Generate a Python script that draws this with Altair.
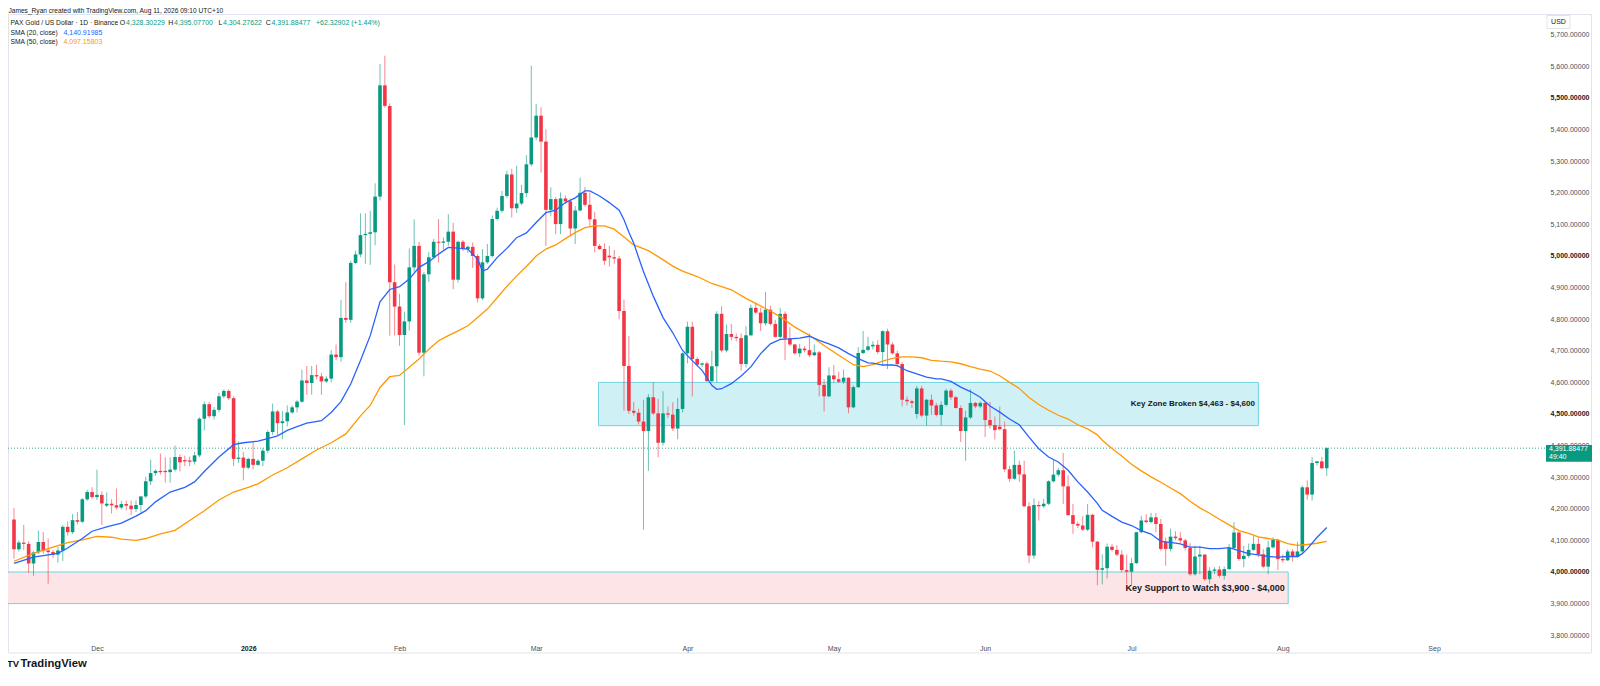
import altair as alt
import pandas as pd

FONT = "Liberation Sans, Arial, sans-serif"
FIRST_DAY = "2025-11-14"

opens = [
    4166, 4072, 4093, 4089, 4027, 4062, 4095, 4068, 4063, 4055,
    4068, 4143, 4126, 4164, 4159, 4230, 4253, 4237, 4244, 4210,
    4216, 4211, 4204, 4215, 4210, 4199, 4212, 4239, 4287, 4313,
    4320, 4320, 4316, 4324, 4364, 4354, 4353, 4349, 4369, 4485,
    4531, 4493, 4513, 4556, 4573, 4550, 4358, 4362, 4330, 4358,
    4339, 4352, 4384, 4443, 4508, 4471, 4477, 4505, 4521, 4539,
    4606, 4598, 4623, 4619, 4603, 4612, 4688, 4680, 4804, 4798,
    4978, 5005, 5066, 5070, 5075, 5188, 5540, 5475, 4917, 4840,
    4750, 4793, 4964, 5032, 4694, 4942, 4996, 5045, 5042, 5045,
    5077, 4925, 5045, 5022, 5029, 5000, 4866, 4980, 5000, 5117,
    5143, 5190, 5258, 5151, 5166, 5199, 5290, 5375, 5444, 5362,
    5146, 5180, 5101, 5182, 5173, 5087, 5144, 5200, 5162, 5116,
    5032, 5022, 5001, 4996, 4992, 4826, 4652, 4510, 4504, 4476,
    4446, 4553, 4502, 4409, 4502, 4498, 4454, 4516, 4692, 4776,
    4674, 4656, 4660, 4604, 4651, 4817, 4701, 4753, 4744, 4740,
    4658, 4749, 4836, 4821, 4787, 4830, 4785, 4744, 4817, 4739,
    4720, 4692, 4707, 4702, 4686, 4695, 4592, 4556, 4622, 4610,
    4602, 4615, 4521, 4585, 4693, 4703, 4714, 4719, 4696, 4762,
    4720, 4692, 4658, 4545, 4540, 4500, 4581, 4495, 4545, 4527,
    4497, 4529, 4574, 4553, 4519, 4446, 4489, 4535, 4524, 4535,
    4481, 4465, 4460, 4452, 4325, 4295, 4339, 4309, 4208, 4052,
    4212, 4208, 4216, 4287, 4308, 4322, 4271, 4180, 4152, 4147,
    4134, 4181, 4096, 4007, 4012, 4080, 4070, 4055, 4006, 4001,
    4028, 4126, 4163, 4158, 4173, 4152, 4095, 4073, 4112, 4107,
    4100, 4076, 3993, 4049, 4055, 3977, 4004, 4008, 3988, 4009,
    4076, 4125, 4041, 4051, 4070, 4089, 4056, 4017, 4078, 4102,
    4041, 4037, 4065, 4048, 4065, 4268, 4245, 4345, 4350, 4328.30229,
]

highs = [
    4203, 4100, 4149, 4098, 4066, 4131, 4126, 4106, 4070, 4080,
    4148, 4160, 4183, 4190, 4234, 4260, 4268, 4324, 4255, 4252,
    4230, 4264, 4225, 4226, 4226, 4226, 4240, 4302, 4355, 4325,
    4375, 4363, 4363, 4400, 4372, 4368, 4365, 4380, 4490, 4539,
    4539, 4522, 4567, 4578, 4578, 4556, 4414, 4380, 4362, 4411,
    4358, 4392, 4449, 4533, 4513, 4510, 4527, 4527, 4545, 4640,
    4652, 4652, 4656, 4630, 4620, 4702, 4720, 4861, 4917, 4985,
    5017, 5135, 5135, 5143, 5230, 5608, 5634, 5483, 4973, 4880,
    4824, 5024, 5116, 5045, 4950, 5012, 5054, 5117, 5059, 5132,
    5105, 5049, 5051, 5034, 5043, 5006, 5022, 5038, 5128, 5153,
    5206, 5270, 5276, 5286, 5225, 5319, 5602, 5481, 5471, 5401,
    5217, 5186, 5201, 5191, 5182, 5158, 5248, 5218, 5201, 5140,
    5038, 5040, 5032, 5019, 5000, 4862, 4747, 4538, 4517, 4545,
    4563, 4601, 4548, 4572, 4524, 4537, 4551, 4695, 4792, 4792,
    4680, 4663, 4666, 4700, 4825, 4841, 4783, 4785, 4755, 4755,
    4778, 4846, 4852, 4836, 4886, 4843, 4798, 4836, 4825, 4775,
    4722, 4722, 4715, 4755, 4720, 4700, 4610, 4648, 4655, 4634,
    4641, 4615, 4590, 4712, 4763, 4744, 4730, 4733, 4765, 4770,
    4727, 4700, 4664, 4556, 4545, 4589, 4589, 4548, 4562, 4535,
    4540, 4580, 4580, 4556, 4527, 4510, 4578, 4538, 4540, 4538,
    4538, 4492, 4524, 4476, 4336, 4384, 4352, 4352, 4221, 4233,
    4225, 4231, 4290, 4355, 4329, 4377, 4306, 4215, 4159, 4177,
    4215, 4184, 4098, 4056, 4090, 4088, 4085, 4069, 4055, 4045,
    4126, 4178, 4183, 4187, 4187, 4168, 4110, 4137, 4129, 4126,
    4105, 4091, 4083, 4083, 4057, 4015, 4015, 4019, 4017, 4089,
    4158, 4128, 4083, 4090, 4114, 4110, 4072, 4099, 4110, 4105,
    4056, 4072, 4072, 4096, 4274, 4290, 4364, 4351, 4364, 4395.07700,
]

lows = [
    4042, 4065, 4070, 3997, 3988, 4057, 4058, 3963, 4045, 4030,
    4035, 4115, 4120, 4150, 4155, 4225, 4232, 4228, 4149, 4205,
    4185, 4198, 4198, 4195, 4180, 4190, 4188, 4233, 4275, 4305,
    4308, 4283, 4283, 4318, 4318, 4335, 4335, 4340, 4363, 4448,
    4487, 4482, 4505, 4550, 4544, 4335, 4345, 4290, 4325, 4325,
    4335, 4335, 4376, 4434, 4434, 4420, 4460, 4500, 4505, 4535,
    4561, 4561, 4610, 4561, 4598, 4600, 4670, 4665, 4788, 4788,
    4975, 4996, 4975, 4972, 5034, 5176, 5470, 4748, 4748, 4716,
    4465, 4764, 4950, 4685, 4619, 4918, 4990, 4980, 5020, 5032,
    4895, 4916, 5016, 5009, 4962, 4853, 4860, 4975, 4995, 5112,
    5137, 5184, 5122, 5137, 5161, 5186, 5284, 5366, 5264, 5032,
    5127, 5069, 5069, 5166, 5063, 5038, 5141, 5156, 5095, 5011,
    5019, 4972, 4967, 4975, 4800, 4510, 4500, 4495, 4467, 4134,
    4320, 4497, 4363, 4400, 4487, 4446, 4420, 4505, 4660, 4556,
    4650, 4648, 4602, 4600, 4600, 4695, 4695, 4733, 4730, 4637,
    4647, 4747, 4815, 4763, 4780, 4780, 4742, 4739, 4671, 4716,
    4688, 4680, 4695, 4680, 4683, 4556, 4508, 4553, 4600, 4598,
    4595, 4502, 4518, 4582, 4690, 4698, 4705, 4690, 4653, 4642,
    4688, 4650, 4524, 4527, 4519, 4486, 4490, 4463, 4497, 4492,
    4463, 4524, 4545, 4517, 4411, 4352, 4484, 4518, 4518, 4427,
    4454, 4419, 4448, 4317, 4285, 4292, 4285, 4205, 4028, 4042,
    4163, 4203, 4212, 4283, 4302, 4215, 4178, 4121, 4139, 4130,
    4129, 4078, 3958, 3961, 3980, 4065, 4050, 3999, 3961, 3956,
    4025, 4122, 4154, 4154, 4126, 4067, 4020, 4065, 4100, 4092,
    4069, 3988, 3988, 3993, 3972, 3963, 3993, 3982, 3976, 4007,
    4073, 4035, 4015, 4045, 4067, 4047, 4013, 3993, 4074, 4006,
    4030, 4035, 4033, 4045, 4057, 4229, 4226, 4337, 4326, 4304.27622,
]

closes = [
    4072, 4093, 4089, 4027, 4062, 4095, 4068, 4063, 4055, 4068,
    4143, 4126, 4164, 4159, 4230, 4253, 4237, 4244, 4217, 4216,
    4211, 4204, 4215, 4210, 4199, 4212, 4239, 4287, 4313, 4320,
    4316, 4316, 4324, 4364, 4347, 4350, 4349, 4369, 4485, 4531,
    4493, 4513, 4556, 4573, 4550, 4358, 4362, 4330, 4358, 4339,
    4352, 4384, 4443, 4508, 4471, 4477, 4505, 4521, 4539, 4606,
    4598, 4623, 4619, 4603, 4612, 4688, 4680, 4804, 4798, 4978,
    5005, 5066, 5070, 5075, 5188, 5540, 5475, 4917, 4840, 4750,
    4793, 4964, 5032, 4694, 4942, 4996, 5045, 5042, 5046, 5077,
    4925, 5045, 5022, 5029, 5000, 4866, 4980, 5000, 5117, 5143,
    5190, 5258, 5151, 5166, 5199, 5290, 5375, 5444, 5362, 5146,
    5180, 5101, 5182, 5173, 5087, 5144, 5200, 5162, 5116, 5032,
    5022, 4985, 4996, 4992, 4826, 4652, 4510, 4504, 4476, 4446,
    4553, 4502, 4409, 4502, 4498, 4454, 4516, 4692, 4776, 4674,
    4656, 4660, 4604, 4651, 4817, 4701, 4753, 4744, 4740, 4658,
    4749, 4836, 4821, 4787, 4830, 4785, 4744, 4817, 4739, 4720,
    4692, 4707, 4702, 4686, 4695, 4592, 4556, 4622, 4610, 4602,
    4615, 4521, 4585, 4693, 4703, 4714, 4719, 4696, 4762, 4720,
    4692, 4658, 4545, 4540, 4535, 4581, 4495, 4545, 4527, 4497,
    4529, 4574, 4553, 4519, 4446, 4489, 4535, 4524, 4535, 4481,
    4465, 4449, 4452, 4325, 4295, 4339, 4309, 4208, 4052, 4212,
    4208, 4216, 4287, 4308, 4322, 4271, 4180, 4152, 4147, 4134,
    4181, 4096, 4007, 4012, 4080, 4070, 4055, 4006, 4001, 4028,
    4126, 4163, 4158, 4173, 4152, 4073, 4073, 4112, 4107, 4100,
    4076, 3993, 4049, 4055, 3977, 4004, 4008, 3988, 4009, 4076,
    4125, 4041, 4051, 4070, 4089, 4056, 4017, 4078, 4102, 4041,
    4037, 4065, 4048, 4065, 4268, 4245, 4345, 4350, 4328.30229, 4391.88477,
]

# SMA readings (candle number, value)
sma20_idx = [1, 5, 10, 12, 15, 17, 20, 23, 26, 28, 30, 33, 36, 38, 40, 43, 46, 48, 51, 53,
             55, 57, 59, 61, 64, 66, 68, 70, 72, 74, 76, 78, 80, 82, 84, 86, 88, 90, 92, 94,
             96, 97, 98, 100, 102, 104, 106, 108, 110, 112, 114, 116, 118, 119, 121, 123, 125, 126, 127, 128,
             130, 132, 134, 136, 138, 140, 142, 144, 145, 146, 148, 150, 152, 154, 156, 158, 160, 162, 164, 166,
             168, 170, 172, 174, 176, 177, 179, 181, 182, 184, 186, 188, 190, 191, 193, 195, 197, 199, 201, 203,
             205, 207, 209, 211, 213, 215, 217, 219, 221, 223, 224, 226, 228, 230, 232, 234, 236, 238, 240, 242,
             244, 246, 248, 250, 252, 254, 256, 258, 260, 262, 264, 265, 266, 268, 270]
sma20_val = [4027, 4047, 4059, 4076, 4106, 4129, 4143, 4155, 4177, 4194, 4222, 4253, 4268, 4285, 4318, 4364, 4403, 4409, 4414, 4422,
             4431, 4448, 4460, 4471, 4479, 4505, 4539, 4595, 4669, 4748, 4855, 4894, 4903, 4927, 4964, 4982, 5006, 5027, 5025, 5022,
             4990, 4953, 4958, 4995, 5024, 5058, 5073, 5106, 5137, 5145, 5169, 5184, 5206, 5206, 5190, 5169, 5145, 5115, 5075, 5040,
             4950, 4873, 4805, 4757, 4701, 4669, 4638, 4591, 4578, 4580, 4596, 4620, 4649, 4691, 4722, 4736, 4738, 4740, 4746, 4733,
             4722, 4709, 4691, 4675, 4662, 4661, 4655, 4655, 4653, 4637, 4627, 4617, 4611, 4611, 4603, 4585, 4571, 4553, 4525, 4506,
             4484, 4466, 4427, 4390, 4364, 4348, 4322, 4285, 4253, 4217, 4195, 4176, 4158, 4147, 4131, 4120, 4097, 4094, 4089, 4079,
             4079, 4074, 4074, 4077, 4068, 4058, 4054, 4049, 4047, 4049, 4049, 4058, 4073, 4109, 4140.91985]

sma50_idx = [1, 5, 9, 12, 15, 18, 21, 23, 26, 28, 31, 34, 37, 40, 43, 46, 49, 51, 54, 57,
             60, 63, 66, 69, 72, 74, 76, 78, 80, 82, 84, 86, 88, 90, 92, 94, 96, 98, 100, 102,
             104, 106, 108, 110, 112, 114, 116, 118, 120, 122, 124, 126, 128, 131, 133, 136, 138, 141, 144, 148,
             151, 155, 158, 161, 164, 167, 170, 173, 175, 177, 179, 181, 183, 185, 187, 189, 191, 193, 195, 197,
             199, 201, 203, 205, 207, 209, 211, 213, 215, 217, 219, 221, 223, 224, 226, 228, 230, 232, 234, 236,
             238, 240, 242, 244, 246, 248, 250, 252, 254, 256, 258, 260, 262, 264, 266, 268, 270]
sma50_val = [4034, 4059, 4079, 4093, 4102, 4113, 4110, 4104, 4100, 4106, 4121, 4132, 4163, 4194, 4228, 4253, 4268, 4279, 4307, 4330,
             4358, 4386, 4409, 4437, 4494, 4527, 4584, 4618, 4622, 4648, 4674, 4705, 4732, 4748, 4763, 4779, 4805, 4832, 4868, 4904,
             4937, 4967, 5000, 5022, 5035, 5055, 5074, 5090, 5095, 5095, 5085, 5060, 5035, 5017, 4998, 4968, 4952, 4935, 4913, 4893,
             4866, 4834, 4808, 4775, 4749, 4717, 4686, 4656, 4650, 4656, 4667, 4676, 4681, 4681, 4678, 4670, 4667, 4665, 4659, 4650,
             4642, 4636, 4621, 4600, 4581, 4552, 4530, 4512, 4496, 4484, 4466, 4453, 4434, 4417, 4391, 4367, 4341, 4320, 4301, 4284,
             4266, 4248, 4224, 4203, 4186, 4167, 4149, 4131, 4122, 4111, 4106, 4101, 4090, 4084, 4087, 4091, 4097.15803]

support_label = "Key Support to Watch $3,900 - $4,000"
support_start, support_end = "2025-11-10T00:00:00Z", "2026-08-02T02:30:00Z"
support_low, support_high = 3900, 4000

zone_label = "Key Zone Broken $4,463 - $4,600"
zone_start, zone_end = "2026-03-13T18:30:00Z", "2026-07-27T00:00:00Z"
zone_low, zone_high = 4463, 4600

last_close = 4391.88477
month_starts = ["2025-12-01", "2026-01-01", "2026-02-01", "2026-03-01", "2026-04-01",
                "2026-05-01", "2026-06-01", "2026-07-01", "2026-08-01", "2026-09-01"]
price_ticks = list(range(3800, 5701, 100))

assert len(opens) == len(highs) == len(lows) == len(closes) == 270
assert len(sma20_idx) == len(sma20_val) and len(sma50_idx) == len(sma50_val)

# ---------------- layout ----------------
PLOT_W, PLOT_H = 1537, 626
PX_PER_DAY = 4.912
Y_MIN, Y_MAX = 3784.8, 5765.8

base_day = pd.Timestamp(FIRST_DAY, tz="UTC")


def iso(t):
    return t.strftime("%Y-%m-%dT%H:%M:%SZ")


def ms(t):
    return int(t.value // 10**6)


dom0 = base_day - pd.Timedelta(days=1.0 / PX_PER_DAY)
dom1 = dom0 + pd.Timedelta(days=PLOT_W / PX_PER_DAY)

df = pd.DataFrame({
    "date": [iso(base_day + pd.Timedelta(days=i)) for i in range(len(closes))],
    "open": opens, "high": highs, "low": lows, "close": closes,
})
df["dir"] = ["up" if c >= o else "down" for o, c in zip(opens, closes)]

sma20_df = pd.DataFrame({"date": [iso(base_day + pd.Timedelta(days=i - 1)) for i in sma20_idx], "v": sma20_val})
sma50_df = pd.DataFrame({"date": [iso(base_day + pd.Timedelta(days=i - 1)) for i in sma50_idx], "v": sma50_val})

support_df = pd.DataFrame([{"s": support_start, "e": support_end, "lo": support_low, "hi": support_high,
                            "mid": (support_low + support_high) / 2, "label": support_label}])
zone_df = pd.DataFrame([{"s": zone_start, "e": zone_end, "lo": zone_low, "hi": zone_high,
                         "mid": (zone_low + zone_high) / 2, "label": zone_label}])

xs = alt.Scale(type="utc", domain=[ms(dom0), ms(dom1)])
ys = alt.Scale(domain=[Y_MIN, Y_MAX], nice=False, zero=False)
cs = alt.Scale(domain=["up", "down"], range=["#089981", "#f23645"])

GREEN, RED, INK, GREY = "#089981", "#f23645", "#131722", "#4a4e59"

x_axis = alt.Axis(
    values=[ms(pd.Timestamp(m, tz="UTC")) for m in month_starts],
    labelExpr="utcmonth(datum.value) === 0 ? utcFormat(datum.value, '%Y') : utcFormat(datum.value, '%b')",
    labelFontWeight={"condition": {"test": "utcmonth(datum.value) === 0", "value": "bold"}, "value": "normal"},
    labelColor={"condition": {"test": "utcmonth(datum.value) === 0", "value": INK}, "value": GREY},
    ticks=False, domain=False, grid=False, labelPadding=4, labelFontSize=7, labelFont=FONT,
    labelFlush=False, labelOverlap=False, title=None,
)
y_axis = alt.Axis(
    orient="right", values=price_ticks, format=",.5f",
    labelFontWeight={"condition": {"test": "datum.value % 500 === 0", "value": "bold"}, "value": "normal"},
    labelColor={"condition": {"test": "datum.value % 500 === 0", "value": INK}, "value": GREY},
    ticks=False, domain=False, grid=False, labelPadding=5, labelFontSize=7, labelFont=FONT,
    labelAlign="left", labelBaseline="middle", labelFlush=False, labelOverlap=False, title=None,
)


def X(field):
    return alt.X(field, scale=xs, axis=x_axis)


def Y(field):
    return alt.Y(field, scale=ys, axis=y_axis)


one = pd.DataFrame({"k": [0]})


def text(t, x, y, color=INK, size=7, weight="normal", align="left"):
    return alt.Chart(one).mark_text(text=t, align=align, baseline="middle", fontSize=size,
                                    fontWeight=weight, color=color, font=FONT).encode(
        x=alt.value(x), y=alt.value(y))


def box(x1, x2, y1, y2, fill, stroke="transparent"):
    return alt.Chart(one).mark_rect(fill=fill, stroke=stroke, strokeWidth=1).encode(
        x=alt.value(x1), x2=alt.value(x2), y=alt.value(y1), y2=alt.value(y2))


support = alt.Chart(support_df).mark_rect(fill="#fde4e6", stroke="#6dd3e0", strokeWidth=1, clip=True).encode(
    x=X("s:T"), x2="e:T", y=Y("lo:Q"), y2="hi:Q")
zone = alt.Chart(zone_df).mark_rect(fill="#cff1f6", stroke="#6dd3e0", strokeWidth=1, clip=True).encode(
    x=X("s:T"), x2="e:T", y=Y("lo:Q"), y2="hi:Q")

dotted = alt.Chart(pd.DataFrame({"p": [last_close]})).mark_rule(
    color=GREEN, strokeDash=[1, 2], strokeWidth=1, opacity=0.8).encode(y=Y("p:Q"))

wicks = alt.Chart(df).mark_rule(strokeWidth=1, opacity=0.6).encode(
    x=X("date:T"), y=Y("low:Q"), y2="high:Q",
    color=alt.Color("dir:N", scale=cs, legend=None))

bodies = alt.Chart(df).mark_bar(size=3.6).encode(
    x=X("date:T"), y=Y("open:Q"), y2="close:Q",
    color=alt.Color("dir:N", scale=cs, legend=None))

sma50 = alt.Chart(sma50_df).mark_line(color="#ff9800", strokeWidth=1.3).encode(x=X("date:T"), y=Y("v:Q"))
sma20 = alt.Chart(sma20_df).mark_line(color="#2962ff", strokeWidth=1.3).encode(x=X("date:T"), y=Y("v:Q"))

support_txt = alt.Chart(support_df).mark_text(align="right", baseline="middle", dx=-3.5, fontSize=9,
                                              fontWeight="bold", color=INK, font=FONT).encode(
    x=X("e:T"), y=Y("mid:Q"), text="label:N")
zone_txt = alt.Chart(zone_df).mark_text(align="right", baseline="middle", dx=-3.5, fontSize=8,
                                        fontWeight="bold", color=INK, font=FONT).encode(
    x=X("e:T"), y=Y("mid:Q"), text="label:N")

frame = box(0.5, 1583.5, 0.5, 639, "transparent", "#e0e3eb")

R1, R2, R3 = 9, 18.5, 27.5
labels = [
    text("James_Ryan created with TradingView.com, Aug 11, 2026 09:10 UTC+10", 0.5, -3, size=6.6),
    text("PAX Gold / US Dollar \u00b7 1D \u00b7 Binance", 2.5, R1, size=6.7),
    text("O", 117.3, R1, align="right"), text("4,328.30229", 118, R1, color=GREEN),
    text("H", 165.3, R1, align="right"), text("4,395.07700", 166, R1, color=GREEN),
    text("L", 214.3, R1, align="right"), text("4,304.27622", 215, R1, color=GREEN),
    text("C", 262.7, R1, align="right"), text("4,391.88477", 263.4, R1, color=GREEN),
    text("+62.32902 (+1.44%)", 308, R1, color=GREEN),
    text("SMA (20, close)", 2.5, R2, size=6.7), text("4,140.91985", 55.4, R2, color="#2962ff"),
    text("SMA (50, close)", 2.5, R3, size=6.7), text("4,097.15803", 55.4, R3, color="#ff9800"),
    box(1539, 1562, 1.5, 14.5, "white", "#e0e3eb"),
    text("USD", 1550.5, 8, size=7, align="center"),
    box(1538, 1584, 431, 447.7, GREEN),
    text("4,391.88477", 1541, 435.3, color="white", size=7),
    text("49:40", 1541, 442.7, color="white", size=7),
    text("TV", -1, 650, size=9.5, weight="bold"),
    text("TradingView", 12.4, 650, size=11.3, weight="bold"),
]

chart = alt.layer(
    frame, support, zone, dotted, wicks, bodies, sma50, sma20, support_txt, zone_txt, *labels
).properties(
    width=PLOT_W, height=PLOT_H,
    padding={"left": 0, "top": 6, "right": 47, "bottom": 32},
    autosize=alt.AutoSizeParams(type="none"),
    background="white",
).configure_view(strokeWidth=0)

chart.save("out.html", embed_options={"renderer": "svg", "actions": False})
